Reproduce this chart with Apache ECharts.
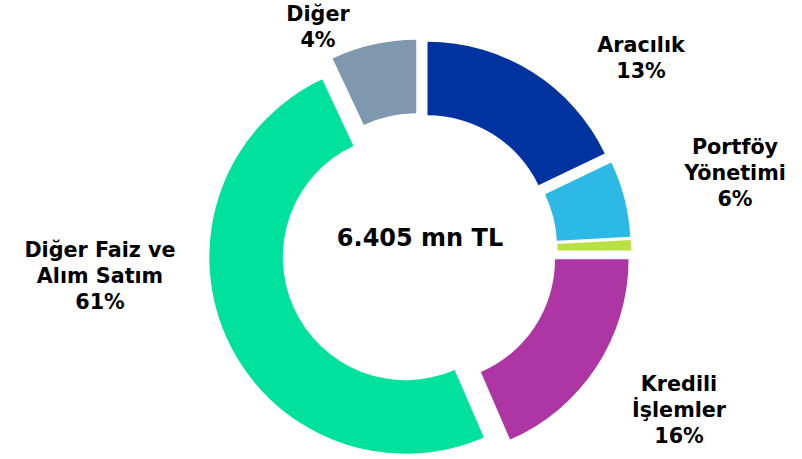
<!DOCTYPE html>
<html>
<head>
<meta charset="utf-8">
<script src="https://cdn.jsdelivr.net/npm/echarts@6/dist/echarts.min.js"></script>
<style>
html,body{margin:0;padding:0;background:#fff;}
#c{width:802px;height:459px;}
</style>
</head>
<body>
<div id="c"></div>
<script>
// Slice names (the tiny lime slice carries no label in the reference)
const categories = ['Aracılık', 'Portföy\nYönetimi', '', 'Kredili\nİşlemler', 'Diğer Faiz ve\nAlım Satım', 'Diğer'];
// Slice sizes as drawn in the picture (share of the ring, %)
const sliceValues = [17.9, 6.25, 0.85, 18.5, 49.5, 7.0];
// Percentages printed in the labels
const labelPercents = ['13%', '6%', '', '16%', '61%', '4%'];
const centerText = '6.405 mn TL';

const colors = ['#0033A0', '#2DB9E6', '#BBE044', '#AE36A4', '#00E19D', '#8098AE'];
// label block centres (layout only)
const labelPos = [[641, 58], [735, 173], [0, 0], [679, 410], [100, 276], [318, 27]];

const chart = echarts.init(document.getElementById('c'), null, {renderer: 'svg'});
const data = categories.map((name, i) => ({
  name: name,
  value: sliceValues[i],
  selected: true,
  itemStyle: {color: colors[i]}
}));

const labelFont = 'bold 20.7px "DejaVu Sans"';
const graphics = [{
  type: 'text',
  x: 420, y: 238,
  style: {
    text: centerText,
    textAlign: 'center',
    textVerticalAlign: 'middle',
    font: 'bold 24px "DejaVu Sans"',
    fill: '#000'
  }
}];
categories.forEach((name, i) => {
  if (!labelPercents[i]) return;
  graphics.push({
    type: 'text',
    x: labelPos[i][0], y: labelPos[i][1],
    style: {
      text: name + '\n' + labelPercents[i],
      textAlign: 'center',
      textVerticalAlign: 'middle',
      font: labelFont,
      lineHeight: 26,
      fill: '#000'
    }
  });
});

chart.setOption({
  animation: false,
  graphic: graphics,
  series: [{
    type: 'pie',
    center: [419.5, 251],
    radius: [123, 196.5],
    startAngle: 90,
    clockwise: true,
    selectedMode: 'multiple',
    selectedOffset: 15,
    silent: true,
    itemStyle: {borderWidth: 0},
    select: {itemStyle: {borderWidth: 0}},
    label: {show: false},
    labelLine: {show: false},
    data: data
  }]
});
</script>
</body>
</html>
